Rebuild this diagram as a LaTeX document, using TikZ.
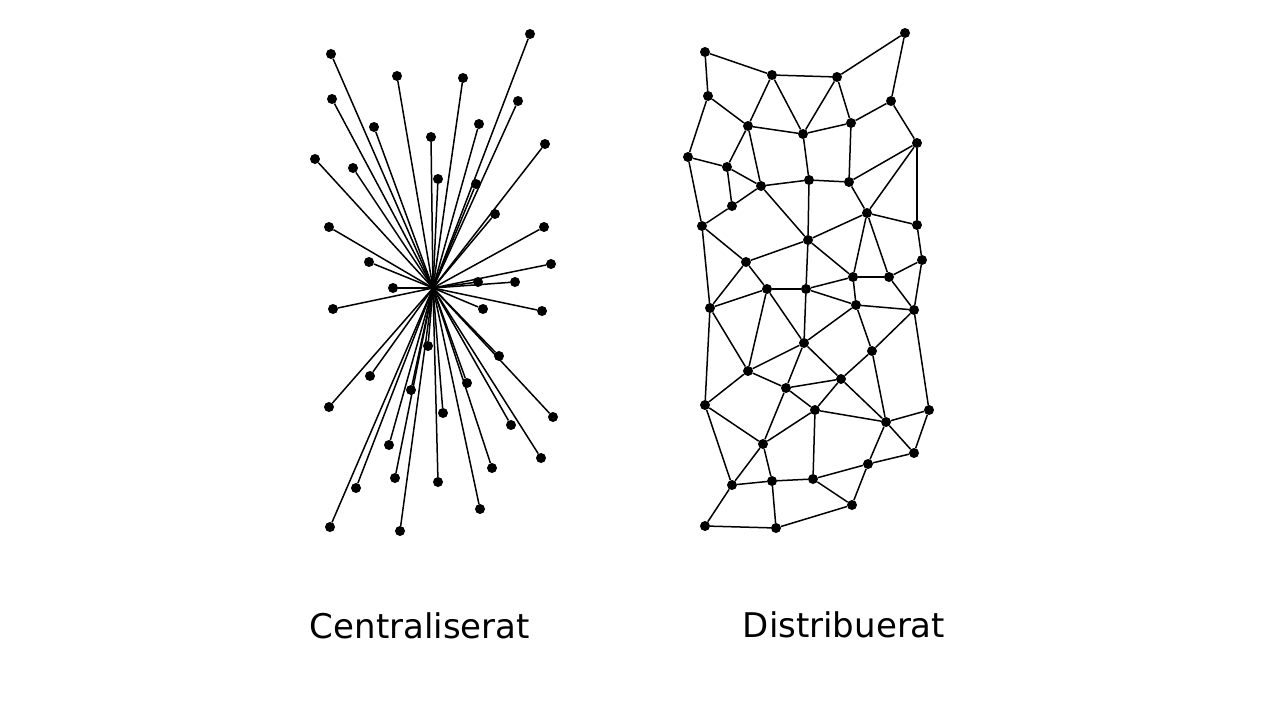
\documentclass[tikz,border=0pt]{standalone}
\usepackage{fontspec}
\setmainfont{DejaVu Sans}
\tikzset{
    dot/.style={circle, fill=black, inner sep=0pt, minimum size=10pt},
    link/.style={black, line width=1.5pt},
    caption/.style={font=\fontsize{34}{38}\selectfont, anchor=base}
}

\begin{document}
\begin{tikzpicture}[x=1pt, y=-1pt]
    \useasboundingbox (0,0) rectangle (1280,720);
    % centraliserat
    \coordinate (c) at (433,288);
    \foreach \x/\y [count=\i] in {530/34, 331/54, 397/76, 463/78, 332/99, 518/101, 374/127, 479/124, 431/137, 545/144, 315/159, 353/168, 438/179, 476/184, 495/214, 329/227, 544/227, 369/262, 551/264, 478/282, 515/282, 393/288, 333/309, 483/309, 542/311, 428/346, 499/356, 370/376, 467/383, 411/390, 329/407, 553/417, 443/413, 511/425, 389/445, 541/458, 492/468, 395/478, 356/488, 438/482, 480/509, 330/527, 400/531}
        \node [dot] (s\i) at (\x,\y) {};
    \foreach \i in {1,...,43}
        \draw [link] (c) -- (s\i);
    \node [caption] (cen) at (420,638) {Centraliserat};

    % distribuerat
    \foreach \n/\x/\y in {a1/705/52, a2/772/75, a3/837/77, a4/905/33,
        b1/708/96, b2/891/101, c1/748/126, c2/803/134, c3/851/123,
        d1/688/157, d2/727/167, d3/917/143, e1/761/186, e2/809/180, e3/849/182,
        f1/732/206, f2/867/213, g1/702/226, g2/917/225, h1/808/240,
        i1/746/262, i2/922/260, j1/853/277, j2/889/277,
        k1/710/308, k2/767/289, k3/806/289, k4/856/305, k5/914/310,
        l1/804/343, l2/872/351, m1/748/371, m2/786/388, m3/841/379,
        n1/705/405, n2/815/410, n3/886/422, n4/929/410, o1/763/444, o2/914/453,
        p1/868/464, q1/732/485, q2/772/481, q3/813/479, r1/852/505,
        s1/705/526, s2/776/528}
        \node [dot] (\n) at (\x,\y) {};
    \foreach \u/\v in {a1/a2, a1/b1, a2/a3, a3/a4, a4/b2, a2/c1, a2/c2, a3/c2, a3/c3,
        b1/c1, b1/d1, c1/c2, c2/c3, c3/b2, b2/d3, c1/d2, c1/e1, c2/e2, c3/e3,
        d1/d2, d1/g1, d2/e1, d2/f1, e1/e2, e2/e3, e3/d3, d3/f2, d3/g2, e3/f2,
        e1/f1, e1/h1, e2/h1, f1/g1, f2/g2, f2/h1, f2/j1, f2/j2, g1/i1, g1/k1,
        g2/i2, h1/i1, h1/j1, h1/k3, i1/k2, i1/k1, j1/j2, j1/k4, j1/k3, j2/k5,
        j2/i2, i2/k5, k2/k3, k2/m1, k2/l1, k2/k1, k3/l1, k3/k4, k4/k5, k4/l1,
        k4/l2, k5/l2, k5/n4, l1/m1, l1/m2, l1/m3, l2/m3, l2/n3, m1/k1, m1/m2,
        m1/n1, m2/m3, m2/n2, m2/o1, m3/n2, m3/n3, n1/k1, n1/o1, n1/q1, n2/o1,
        n2/n3, n2/q3, n3/n4, n3/o2, n3/p1, n4/o2, o2/p1, o1/q1, o1/q2, p1/q3,
        p1/r1, q1/q2, q1/s1, q2/q3, q2/s2, q3/r1, r1/s2, s1/s2}
        \draw [link] (\u) -- (\v);
    \node [caption] (dis) at (844,637) {Distribuerat};
\end{tikzpicture}
\end{document}
